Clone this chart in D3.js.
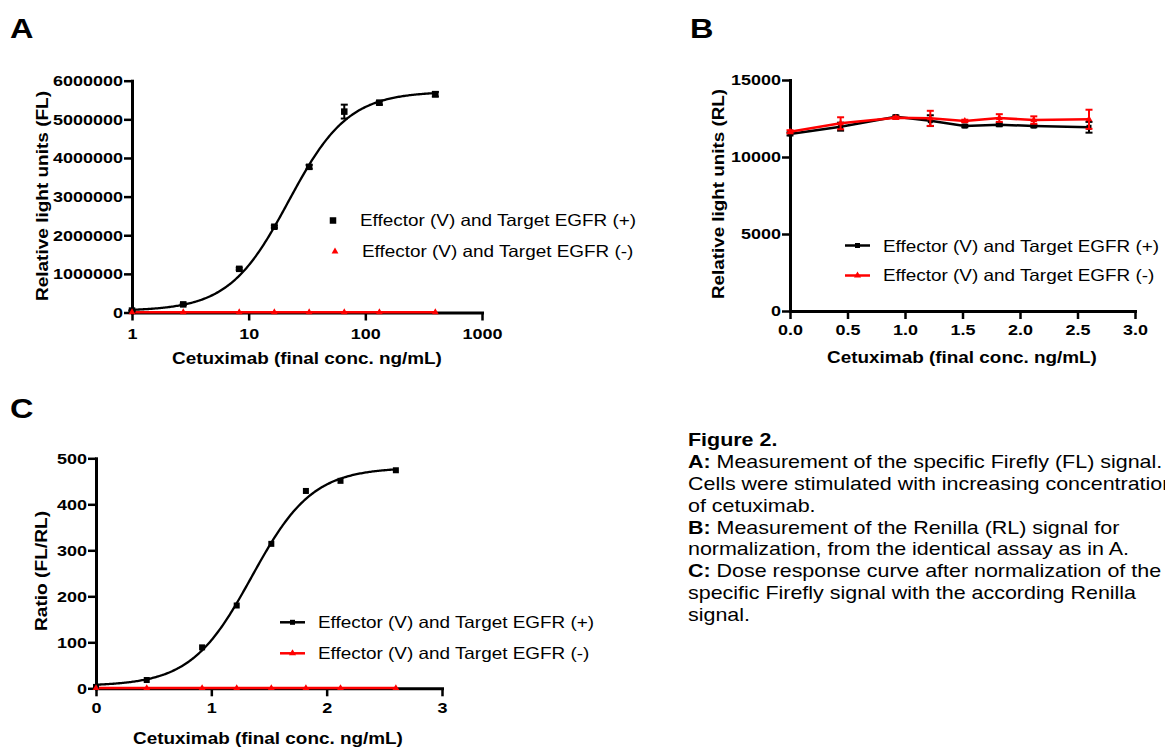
<!DOCTYPE html>
<html>
<head>
<meta charset="utf-8">
<script src="https://cdn.jsdelivr.net/npm/d3@7"></script>
<style>
  html, body { margin: 0; padding: 0; background: #fff; }
  svg { display: block; }
</style>
</head>
<body>
<script>
// ---------------- DATA ----------------
const seriesNames = ["Effector (V) and Target EGFR (+)", "Effector (V) and Target EGFR (-)"];
// Panel A : concentration (ng/mL) on log axis
const concA = [1, 2.75, 8.3, 16.6, 33, 66, 132, 398];
const flPos = [50000, 210000, 1130000, 2220000, 3770000, 5200000, 5430000, 5650000];
const flPosErr = [10000, 20000, 30000, 30000, 50000, 180000, 50000, 60000];
const flNeg = [8000, 8000, 8000, 8000, 8000, 8000, 8000, 8000];
const fitA = [40000, 5720000, 1.342, 1.7]; // bottom, top, logEC50, hill
const ticksAx = [1, 10, 100, 1000];
const ticksAy = [0, 1000000, 2000000, 3000000, 4000000, 5000000, 6000000];
// Panel B / C : log concentration
const logConc = [0, 0.44, 0.92, 1.22, 1.52, 1.82, 2.12, 2.6];
const rlPos = [11500, 11970, 12620, 12360, 12010, 12100, 12010, 11930];
const rlPosErr = [100, 260, 80, 350, 80, 100, 80, 350];
const rlNeg = [11640, 12190, 12550, 12510, 12340, 12530, 12400, 12450];
const rlNegErr = [100, 390, 80, 490, 80, 250, 240, 620];
const ticksBx = [0, 0.5, 1.0, 1.5, 2.0, 2.5, 3.0];
const ticksBy = [0, 5000, 10000, 15000];
const ratioPos = [3, 18, 89, 180, 314, 429, 451, 474];
const ratioNeg = [0.5, 0.5, 0.5, 0.5, 0.5, 0.5, 0.5, 0.5];
const fitC = [5, 480, 1.35, 1.65];
const ticksCx = [0, 1, 2, 3];
const ticksCy = [0, 100, 200, 300, 400, 500];
const captionLines = [
  [["Figure 2.", true]],
  [["A:", true], [" Measurement of the specific Firefly (FL) signal.", false]],
  [["Cells were stimulated with increasing concentrations", false]],
  [["of cetuximab.", false]],
  [["B:", true], [" Measurement of the Renilla (RL) signal for", false]],
  [["normalization, from the identical assay as in A.", false]],
  [["C:", true], [" Dose response curve after normalization of the", false]],
  [["specific Firefly signal with the according Renilla", false]],
  [["signal.", false]]
];

// ---------------- SETUP ----------------
const FONT = "'Liberation Sans', Arial, Helvetica, sans-serif";
const K = 1.16; // horizontal stretch of the original picture's text
const RED = "#ff0000";
const W = 1165, H = 749;
const svg = d3.select("body").append("svg").attr("width", W).attr("height", H)
  .style("font-family", FONT);
svg.append("rect").attr("width", W).attr("height", H).attr("fill", "#fff");

function stretchText(sel, x, y, size, weight, anchor) {
  return sel.attr("transform", `translate(${x},${y}) scale(${K},1)`)
    .attr("font-size", size).attr("font-weight", weight || "normal")
    .attr("text-anchor", anchor || "start").attr("fill", "#000");
}

function styleAxis(g) {
  g.select(".domain").attr("stroke-width", 3).attr("stroke", "#000").attr("stroke-linecap", "square");
  g.selectAll(".tick line").attr("stroke-width", 2.5).attr("stroke", "#000");
  g.selectAll(".tick text").attr("font-size", 15.5).attr("font-weight", "bold")
    .attr("font-family", FONT).attr("fill", "#000")
    .each(function () {
      const t = d3.select(this);
      const x = +t.attr("x") || 0;
      t.attr("x", x / K).attr("transform", `scale(${K},1)`);
    });
}

function errBars(g, xs, ys, es, x, y, color) {
  xs.forEach((xv, i) => {
    const cx = x(xv), y1 = y(ys[i] + es[i]), y2 = y(ys[i] - es[i]);
    g.append("line").attr("x1", cx).attr("x2", cx).attr("y1", y1).attr("y2", y2)
      .attr("stroke", color).attr("stroke-width", 2);
    [y1, y2].forEach(yy => g.append("line").attr("x1", cx - 3.5).attr("x2", cx + 3.5)
      .attr("y1", yy).attr("y2", yy).attr("stroke", color).attr("stroke-width", 2));
  });
}
function squares(g, xs, ys, x, y, size) {
  g.selectAll(null).data(xs).join("rect")
    .attr("x", (d) => x(d) - size / 2).attr("y", (d, i) => y(ys[i]) - size / 2)
    .attr("width", size).attr("height", size).attr("fill", "#000");
}
function triangles(g, xs, ys, x, y, size, color) {
  const sym = d3.symbol().type(d3.symbolTriangle).size(size);
  g.selectAll(null).data(xs).join("path")
    .attr("d", sym).attr("transform", (d, i) => `translate(${x(d)},${y(ys[i])})`)
    .attr("fill", color);
}
function legend(g, x0, yLine, xText, yText, showLine, kind) {
  const color = kind === 0 ? "#000" : RED;
  if (showLine) {
    g.append("line").attr("x1", x0).attr("x2", x0 + 25).attr("y1", yLine).attr("y2", yLine)
      .attr("stroke", color).attr("stroke-width", 2.5);
  }
  const cx = showLine ? x0 + 12.5 : x0;
  if (kind === 0) {
    const s = showLine ? 5 : 6.5;
    g.append("rect").attr("x", cx - s / 2).attr("y", yLine - s / 2).attr("width", s).attr("height", s).attr("fill", "#000");
  } else {
    g.append("path").attr("d", d3.symbol().type(d3.symbolTriangle).size(showLine ? 22 : 20)())
      .attr("transform", `translate(${cx},${yLine})`).attr("fill", RED);
  }
  stretchText(g.append("text").text(seriesNames[kind]), xText, yText, 16.3, "normal");
}
function fourPL(p, lx) { return p[0] + (p[1] - p[0]) / (1 + Math.pow(10, (p[2] - lx) * p[3])); }

// Panel letters
stretchText(svg.append("text").text("A"), 10, 38, 28, "bold");
stretchText(svg.append("text").text("B"), 690, 38, 28, "bold");
stretchText(svg.append("text").text("C"), 10, 418, 28, "bold");

// ---------------- PANEL A ----------------
{
  const x = d3.scaleLog().domain([1, 1000]).range([132, 482]);
  const y = d3.scaleLinear().domain([0, 6000000]).range([312.5, 80.7]);
  const gx = svg.append("g").attr("transform", `translate(0,${y(0)})`)
    .call(d3.axisBottom(x).tickValues(ticksAx).tickFormat(d3.format("d")).tickSize(8).tickSizeOuter(0).tickPadding(7.5));
  styleAxis(gx);
  const gy = svg.append("g").attr("transform", `translate(${x(1)},0)`)
    .call(d3.axisLeft(y).tickValues(ticksAy).tickFormat(d3.format("d")).tickSize(8).tickSizeOuter(0).tickPadding(1));
  styleAxis(gy);
  const g = svg.append("g");
  // fit curve
  const lxs = d3.range(0, 2.6 + 1e-9, 0.01);
  g.append("path").datum(lxs).attr("fill", "none").attr("stroke", "#000").attr("stroke-width", 2.3)
    .attr("d", d3.line().x(d => x(Math.pow(10, d))).y(d => y(fourPL(fitA, d))).curve(d3.curveLinear));
  // negative series line
  g.append("path").datum(concA).attr("fill", "none").attr("stroke", RED).attr("stroke-width", 2.5)
    .attr("d", d3.line().x(d => x(d)).y((d, i) => y(flNeg[i])));
  errBars(g, concA, flPos, flPosErr, x, y, "#000");
  squares(g, concA, flPos, x, y, 6.5);
  triangles(g, concA, flNeg, x, y, 20, RED);
  stretchText(svg.append("text").text("Cetuximab (final conc. ng/mL)"), 307, 364, 16.3, "bold", "middle");
  svg.append("text").text("Relative light units (FL)")
    .attr("transform", "translate(48,196) rotate(-90)").attr("text-anchor", "middle")
    .attr("font-size", 17).attr("font-weight", "bold").attr("textLength", 210).attr("lengthAdjust", "spacingAndGlyphs");
  legend(svg, 333, 220.5, 360, 225.5, false, 0);
  legend(svg, 335, 251.5, 362, 256.5, false, 1);
}

// ---------------- PANEL B ----------------
{
  const x = d3.scaleLinear().domain([0, 3]).range([790, 1135]);
  const y = d3.scaleLinear().domain([0, 15000]).range([311, 80]);
  const gx = svg.append("g").attr("transform", `translate(0,${y(0)})`)
    .call(d3.axisBottom(x).tickValues(ticksBx).tickFormat(d3.format(".1f")).tickSize(8).tickSizeOuter(0).tickPadding(5));
  styleAxis(gx);
  const gy = svg.append("g").attr("transform", `translate(${x(0)},0)`)
    .call(d3.axisLeft(y).tickValues(ticksBy).tickFormat(d3.format("d")).tickSize(8).tickSizeOuter(0).tickPadding(1));
  styleAxis(gy);
  const g = svg.append("g");
  const ln = (vals) => d3.line().x(d => x(d)).y((d, i) => y(vals[i]));
  g.append("path").datum(logConc).attr("fill", "none").attr("stroke", "#000").attr("stroke-width", 2.5).attr("d", ln(rlPos));
  errBars(g, logConc, rlPos, rlPosErr, x, y, "#000");
  squares(g, logConc, rlPos, x, y, 5);
  g.append("path").datum(logConc).attr("fill", "none").attr("stroke", RED).attr("stroke-width", 2.5).attr("d", ln(rlNeg));
  errBars(g, logConc, rlNeg, rlNegErr, x, y, RED);
  triangles(g, logConc, rlNeg, x, y, 20, RED);
  stretchText(svg.append("text").text("Cetuximab (final conc. ng/mL)"), 962, 363, 16.3, "bold", "middle");
  svg.append("text").text("Relative light units (RL)")
    .attr("transform", "translate(724,194) rotate(-90)").attr("text-anchor", "middle")
    .attr("font-size", 17).attr("font-weight", "bold").attr("textLength", 210).attr("lengthAdjust", "spacingAndGlyphs");
  legend(svg, 845, 245.5, 883, 251.5, true, 0);
  legend(svg, 845, 275.5, 883, 281, true, 1);
}

// ---------------- PANEL C ----------------
{
  const x = d3.scaleLinear().domain([0, 3]).range([96, 442]);
  const y = d3.scaleLinear().domain([0, 500]).range([688.3, 458.3]);
  const gx = svg.append("g").attr("transform", `translate(0,${y(0)})`)
    .call(d3.axisBottom(x).tickValues(ticksCx).tickFormat(d3.format("d")).tickSize(8).tickSizeOuter(0).tickPadding(6));
  styleAxis(gx);
  const gy = svg.append("g").attr("transform", `translate(${x(0)},0)`)
    .call(d3.axisLeft(y).tickValues(ticksCy).tickFormat(d3.format("d")).tickSize(8).tickSizeOuter(0).tickPadding(1));
  styleAxis(gy);
  const g = svg.append("g");
  const lxs = d3.range(0, 2.6 + 1e-9, 0.01);
  g.append("path").datum(lxs).attr("fill", "none").attr("stroke", "#000").attr("stroke-width", 2.3)
    .attr("d", d3.line().x(d => x(d)).y(d => y(fourPL(fitC, d))));
  g.append("path").datum(logConc).attr("fill", "none").attr("stroke", RED).attr("stroke-width", 2.5)
    .attr("d", d3.line().x(d => x(d)).y((d, i) => y(ratioNeg[i])));
  squares(g, logConc, ratioPos, x, y, 6);
  triangles(g, logConc, ratioNeg, x, y, 20, RED);
  stretchText(svg.append("text").text("Cetuximab (final conc. ng/mL)"), 268, 744, 16.3, "bold", "middle");
  svg.append("text").text("Ratio (FL/RL)")
    .attr("transform", "translate(47,571) rotate(-90)").attr("text-anchor", "middle")
    .attr("font-size", 17).attr("font-weight", "bold").attr("textLength", 120).attr("lengthAdjust", "spacingAndGlyphs");
  legend(svg, 280, 622.3, 318, 628, true, 0);
  legend(svg, 280, 653.3, 318, 659, true, 1);
}

// ---------------- CAPTION ----------------
{
  const g = svg.append("g").attr("transform", `translate(688,0) scale(${K},1)`);
  captionLines.forEach((parts, i) => {
    const t = g.append("text").attr("x", 0).attr("y", 446 + i * 21.9).attr("font-size", 18.5).attr("fill", "#000");
    parts.forEach(([s, b]) => t.append("tspan").text(s).attr("font-weight", b ? "bold" : "normal"));
  });
}
</script>
</body>
</html>
